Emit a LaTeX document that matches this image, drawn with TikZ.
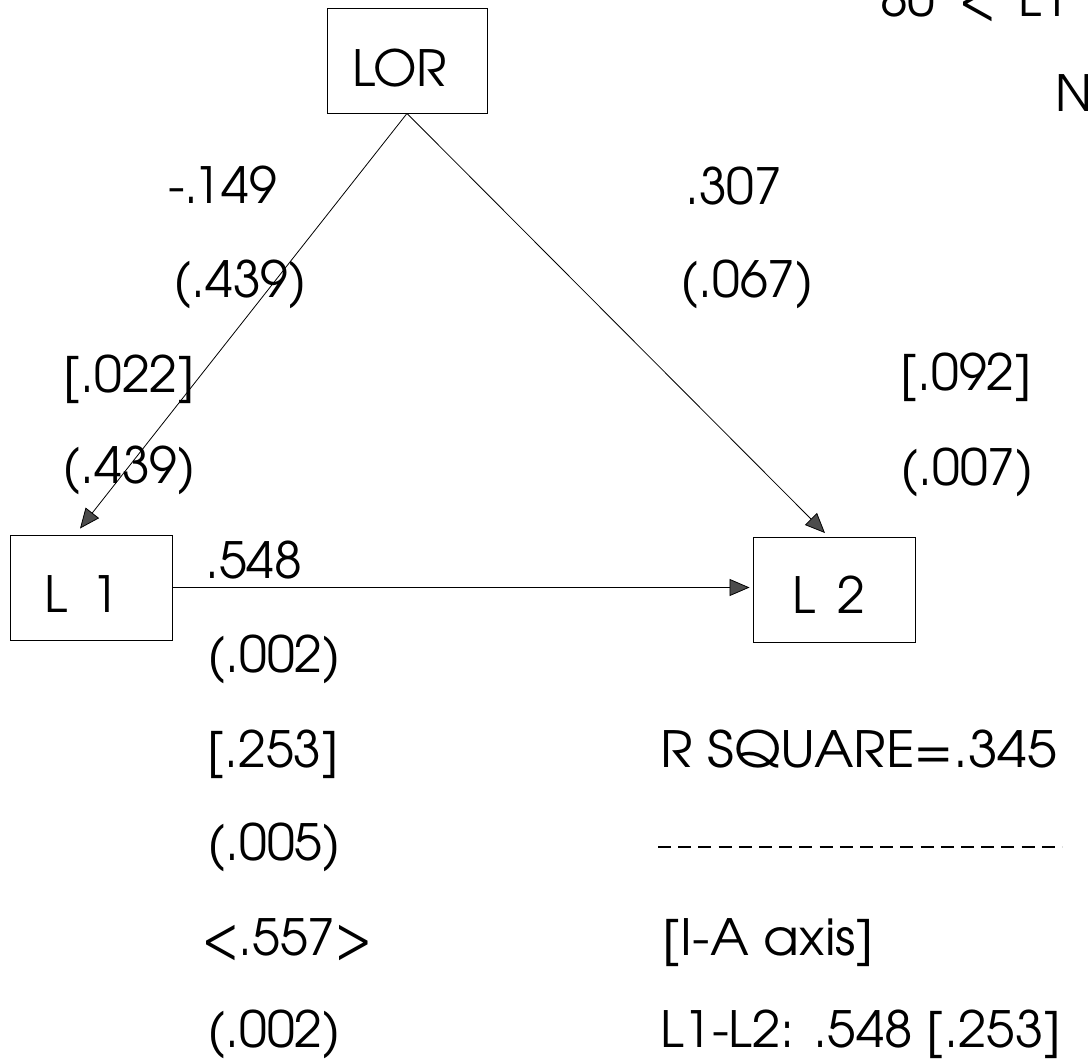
\documentclass[tikz,border=0pt]{standalone}
\usepackage{fontspec}
\IfFontExistsTF{TeX Gyre Adventor}{\setmainfont{TeX Gyre Adventor}}{\setmainfont{Poppins}}
\usetikzlibrary{arrows.meta}
\tikzset{
  lbl/.style={anchor=base west, inner sep=0pt, font=\fontsize{50}{60}\selectfont},
  boxnode/.style={draw, line width=0.9pt, inner sep=0pt, minimum width=162pt, minimum height=105pt, font=\fontsize{50}{60}\selectfont},
  arr/.style={line width=0.8pt, -{Triangle[length=20pt,width=17pt,fill=black!70]}}
}
\begin{document}
\begin{tikzpicture}[x=1pt,y=-1pt]
\clip (0,0) rectangle (1088,1062);
\useasboundingbox (0,0) rectangle (1088,1062);
% boxes
\node[boxnode, minimum width=160pt, text height=53pt, text depth=0pt] (LOR) at (407,60.5) {\hspace*{-14pt}LOR};
\node[boxnode, text height=49pt, text depth=0pt] (L1) at (91,587.5) {\hspace*{-19pt}L\hspace{24pt}1};
\node[boxnode, text height=46pt, text depth=0pt] (L2) at (834,590) {\hspace*{-10pt}L\hspace{22pt}2};
% connectors
\draw[arr] (LOR.south) -- ([xshift=-11pt,yshift=6pt]L1.north);
\draw[arr] (LOR.south) -- ([xshift=-9pt,yshift=4pt]L2.north);
\draw[arr, shorten >=3pt] (L1.east) -- (L1.east -| L2.west);
% labels LOR -> L1
\node[lbl] (a1) at (168,204) {-.149};
\node[lbl] (a2) at (173,297) {(.439)};
\node[lbl] (a3) at (63,392) {[.022]};
\node[lbl] (a4) at (62,483) {(.439)};
% labels LOR -> L2
\node[lbl] (b1) at (685,205) {.307};
\node[lbl] (b2) at (680,297) {(.067)};
\node[lbl] (b3) at (900,390) {[.092]};
\node[lbl] (b4) at (900,485) {(.007)};
% labels L1 -> L2
\node[lbl] (c1) at (205,578) {.548};
\node[lbl] (c2) at (207,672) {(.002)};
\node[lbl] (c3) at (207,767) {[.253]};
\node[lbl] (c4) at (207,860) {(.005)};
\node[lbl] (c5) at (202,955) {<.557>};
\node[lbl] (c6) at (207,1047) {(.002)};
% right block
\node[lbl] (rsq) at (660,767) {\scalebox{1.07}[1]{R SQUARE=.345}};
\coordinate (d1) at (658,847);
\coordinate (d2) at (1062,847);
\draw[line width=1.4pt, dash pattern=on 13pt off 7.2pt] (d1) -- (d2);
\node[lbl] (axis) at (662,955) {\scalebox{1.05}[1]{[I-A axis]}};
\node[lbl] (l1l2) at (660,1047) {\scalebox{1.02}[1]{L1-L2: .548 [.253]}};
% top right (cut off in the reference)
\node[lbl] (range) at (880,17) {80\hspace{24pt}<\hspace{22pt}L1\hspace{22pt}<};
\node[lbl] (nn) at (1055,112) {N};
\end{tikzpicture}
\end{document}
